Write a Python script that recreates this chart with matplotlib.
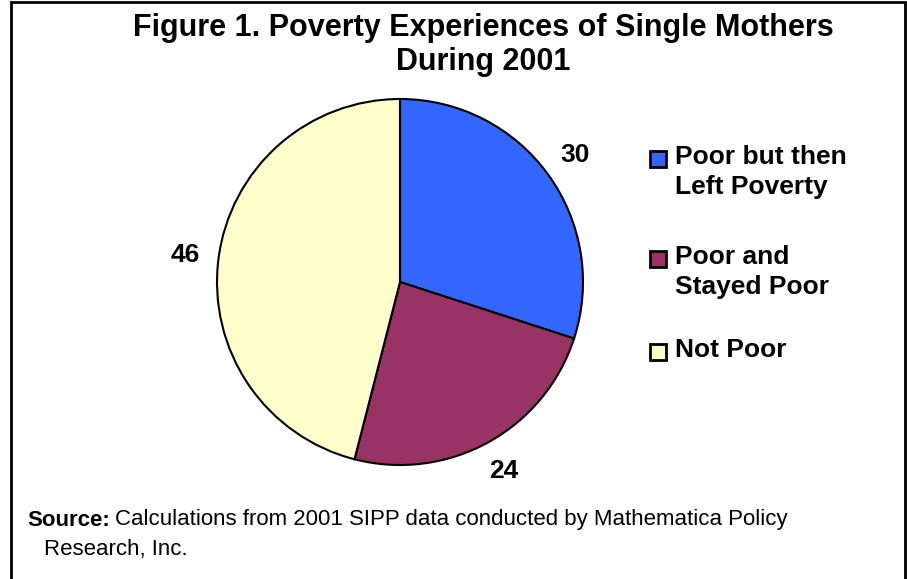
"""
Figure 1: poverty experiences of single mothers, 2001 (pie chart)
"""

import matplotlib
matplotlib.use('Agg')
import matplotlib.pyplot as plt
from matplotlib.patches import Rectangle

plt.rcParams['font.family'] = ['Liberation Sans', 'DejaVu Sans']

# data
categories = ['Poor but then\nLeft Poverty', 'Poor and\nStayed Poor', 'Not Poor']
values = [30, 24, 46]
colors = ['#3366FF', '#993366', '#FFFFCC']

W, H = 907, 579
fig = plt.figure(figsize=(W / 100, H / 100), dpi=100)

# outer frame
fig.patches.append(Rectangle((11 / W, -0.05), (905 - 11) / W, 1.05 - 2 / H,
                             transform=fig.transFigure, fill=False,
                             edgecolor='black', linewidth=2))

# title
fig.text(483 / W, 1 - 28 / H, 'Figure 1. Poverty Experiences of Single Mothers',
         ha='center', va='center', fontsize=22, fontweight='bold')
fig.text(483 / W, 1 - 62 / H, 'During 2001',
         ha='center', va='center', fontsize=22, fontweight='bold')

# pie axes, centre (400, 282) px, radius 183 px
cx, cy, r = 400, 282, 183
ax = fig.add_axes([(cx - r) / W, (H - cy - r) / H, 2 * r / W, 2 * r / H])
wedges, texts = ax.pie(values, colors=colors, startangle=90, counterclock=False,
                       labels=[str(v) for v in values], labeldistance=1.18,
                       wedgeprops=dict(edgecolor='black', linewidth=1.5),
                       textprops=dict(fontsize=19, fontweight='bold'))
for t in texts:
    t.set_ha('center')
    t.set_va('center')
ax.set_xlim(-1, 1)
ax.set_ylim(-1, 1)
ax.set_aspect('equal')
ax.axis('off')

# legend drawn by hand so the box sits on the first line of each label
leg_y = [159, 259, 352]
for lab, col, y in zip(categories, colors, leg_y):
    fig.patches.append(Rectangle((650 / W, 1 - (y + 8) / H), 16 / W, 16 / H,
                                 transform=fig.transFigure, facecolor=col,
                                 edgecolor='black', linewidth=2))
    fig.text(675 / W, 1 - (y - 14) / H, lab, ha='left', va='top',
             fontsize=19, fontweight='bold', linespacing=1.32)

# source note: bold lead-in, then regular text right after it
src = fig.text(27 / W, 1 - 520 / H, 'Source:', ha='left', va='center',
               fontsize=16, fontweight='bold')
renderer = fig.canvas.get_renderer()
bb = src.get_window_extent(renderer)
fig.text((bb.x1 + 5) / W, 1 - 520 / H,
         'Calculations from 2001 SIPP data conducted by Mathematica Policy',
         ha='left', va='center', fontsize=16)
fig.text(44 / W, 1 - 549 / H, 'Research, Inc.', ha='left', va='center', fontsize=16)

fig.savefig('out.png', dpi=100)
